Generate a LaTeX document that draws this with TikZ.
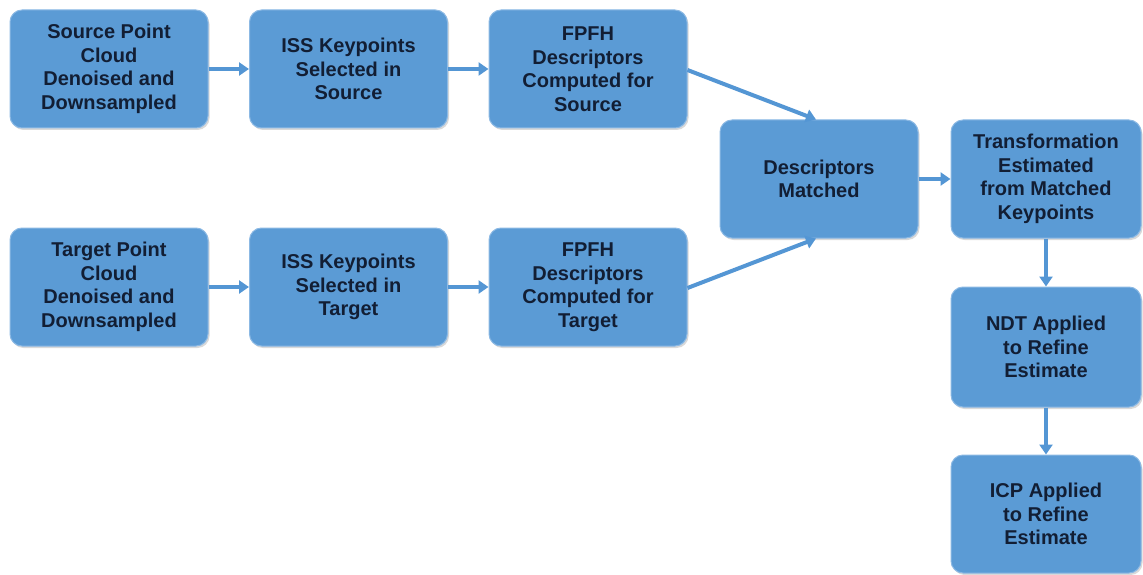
\documentclass[tikz,border=0pt]{standalone}
\usepackage{fontspec}
\setmainfont{Liberation Sans}
\usetikzlibrary{arrows.meta,shadows}
\definecolor{boxblue}{RGB}{91,155,213}
\definecolor{boxedge}{RGB}{140,185,228}
\definecolor{txt}{RGB}{18,30,52}
\definecolor{arr}{RGB}{84,150,212}
\tikzset{
  stepbox/.style={rounded corners=12pt, fill=boxblue, draw=boxedge, line width=1pt,
    minimum width=198pt, minimum height=118pt, align=center, text=txt,
    font=\fontsize{20}{23.5}\selectfont\bfseries,
    drop shadow={shadow xshift=1.5pt, shadow yshift=-2pt, opacity=0.25, fill=black!60}},
  conn/.style={draw=arr, line width=4pt, -{Triangle[width=13pt,length=10pt]}}
}
\begin{document}
\begin{tikzpicture}[x=1pt,y=1pt]
\useasboundingbox (0,0) rectangle (1143,-575);
\node[stepbox] (src)  at (109,-69)  {Source Point\\Cloud\\Denoised and\\Downsampled};
\node[stepbox] (issS) at (348.5,-69) {ISS Keypoints\\Selected in\\Source};
\node[stepbox] (fpS)  at (588,-69)  {FPFH\\Descriptors\\Computed for\\Source};
\node[stepbox] (tgt)  at (109,-287) {Target Point\\Cloud\\Denoised and\\Downsampled};
\node[stepbox] (issT) at (348.5,-287) {ISS Keypoints\\Selected in\\Target};
\node[stepbox] (fpT)  at (588,-287) {FPFH\\Descriptors\\Computed for\\Target};
\node[stepbox] (desc) at (819,-179) {Descriptors\\Matched};
\node[stepbox, minimum width=190pt] (trans) at (1046,-179) {Transformation\\Estimated\\from Matched\\Keypoints};
\node[stepbox, minimum width=190pt, minimum height=120pt] (ndt) at (1046,-347) {NDT Applied\\to Refine\\Estimate};
\node[stepbox, minimum width=190pt] (icp) at (1046,-514) {ICP Applied\\to Refine\\Estimate};
\draw[conn] (src) -- (issS);
\draw[conn] (issS) -- (fpS);
\draw[conn] (tgt) -- (issT);
\draw[conn] (issT) -- (fpT);
\draw[conn] ([yshift=-1pt]fpS.east) -- ([xshift=-3pt]desc.north);
\draw[conn] ([yshift=-1pt]fpT.east) -- ([xshift=-3pt]desc.south);
\draw[conn] (desc) -- (trans);
\draw[conn] (trans) -- (ndt);
\draw[conn] (ndt) -- (icp);
\end{tikzpicture}
\end{document}
